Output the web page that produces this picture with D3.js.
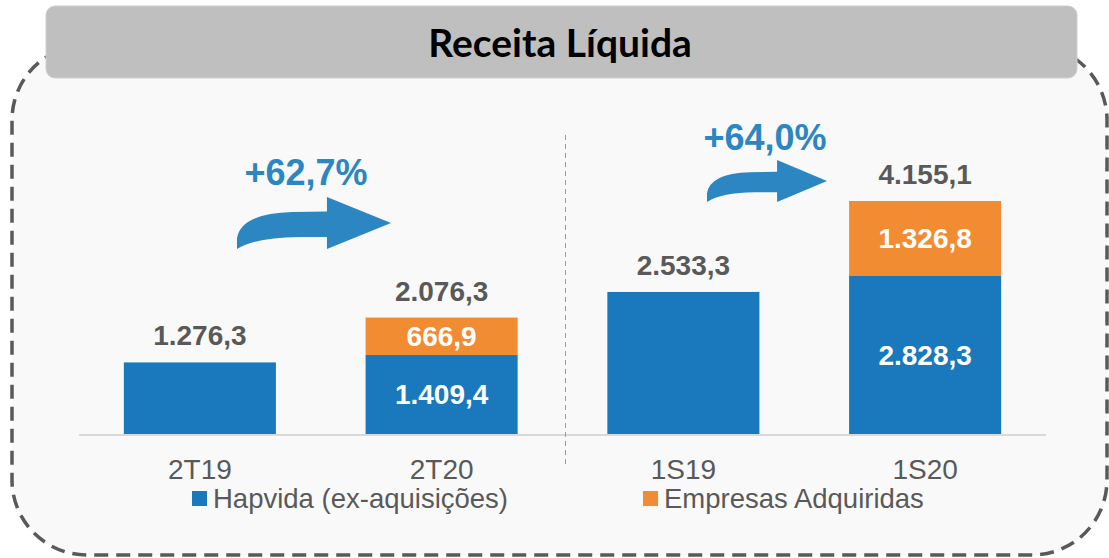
<!DOCTYPE html>
<html><head><meta charset="utf-8">
<script src="https://cdn.jsdelivr.net/npm/d3@7"></script>
<style>
html,body{margin:0;padding:0;background:#ffffff;}
svg{display:block;}
</style>
</head><body>
<svg id="chart" width="1109" height="558"></svg>
<script>
// ---- data ----
const categories = ["2T19", "2T20", "1S19", "1S20"];
const hapvida = [1276.3, 1409.4, 2533.3, 2828.3];
const adquiridas = [0, 666.9, 0, 1326.8];
const totals = [1276.3, 2076.3, 2533.3, 4155.1];
const seriesNames = ["Hapvida (ex-aquisições)", "Empresas Adquiridas"];
const growthLabels = ["+62,7%", "+64,0%"];
const title = "Receita Líquida";

// ---- setup ----
const W = 1109, H = 558;
const svg = d3.select("#chart");
const blue = "#1a79bc", orange = "#f28c33", arrowBlue = "#2b86c1", grey = "#595959";
const br = d3.formatLocale({decimal: ",", thousands: ".", grouping: [3], currency: ["R$", ""]});
const fmt = br.format(",.1f");

// background frame
svg.append("rect").attr("x", 12).attr("y", 45).attr("width", 1095).attr("height", 510)
  .attr("rx", 75).attr("ry", 75)
  .attr("fill", "#f9f9f9").attr("stroke", grey).attr("stroke-width", 3.5)
  .attr("stroke-dasharray", "14 8");

// title bar
svg.append("rect").attr("x", 46).attr("y", 6).attr("width", 1031).attr("height", 72)
  .attr("rx", 9).attr("fill", "#bfbfbf").attr("stroke", "#cfcfcf").attr("stroke-width", 1);
svg.append("text").attr("x", 560).attr("y", 57).attr("text-anchor", "middle")
  .attr("font-family", "Lato, 'Open Sans', sans-serif").attr("font-weight", 700)
  .attr("font-size", 39).attr("fill", "#000").text(title);

// scales
const x = d3.scaleBand().domain(categories).range([79, 1046]).paddingInner(0.371).paddingOuter(0.1855);
const y = d3.scaleLinear().domain([0, d3.max(totals)]).range([434, 201]);

// stacked data
const rows = categories.map((c, i) => ({cat: c, hap: hapvida[i], adq: adquiridas[i], total: totals[i]}));
const stack = d3.stack().keys(["hap", "adq"])(rows);
const colors = {hap: blue, adq: orange};

const g = svg.append("g");
stack.forEach(layer => {
  g.selectAll(null).data(layer.filter(d => d[1] > d[0])).enter().append("rect")
    .attr("x", d => x(d.data.cat)).attr("width", x.bandwidth())
    .attr("y", d => y(d[1])).attr("height", d => y(d[0]) - y(d[1]))
    .attr("fill", colors[layer.key]);
});

// baseline
svg.append("line").attr("x1", x.range()[0]).attr("x2", x.range()[1])
  .attr("y1", y(0) + 1).attr("y2", y(0) + 1).attr("stroke", "#d9d9d9").attr("stroke-width", 2);

// separator
const sepX = (x("2T20") + x.bandwidth() + x("1S19")) / 2 + 3;
svg.append("line").attr("x1", sepX).attr("x2", sepX).attr("y1", 135).attr("y2", 468)
  .attr("stroke", "#9a9a9a").attr("stroke-width", 1).attr("stroke-dasharray", "5 4");

const labelFont = "'Liberation Sans', Arial, sans-serif";
// total labels
svg.selectAll(null).data(rows).enter().append("text")
  .attr("x", d => x(d.cat) + x.bandwidth() / 2).attr("y", d => y(d.total) - 17)
  .attr("text-anchor", "middle").attr("font-family", labelFont).attr("font-weight", 700)
  .attr("font-size", 28).attr("fill", grey).text(d => fmt(d.total));

// inside labels (only stacked bars)
stack.forEach(layer => {
  svg.selectAll(null).data(layer.filter(d => d.data.adq > 0)).enter().append("text")
    .attr("x", d => x(d.data.cat) + x.bandwidth() / 2)
    .attr("y", d => (y(d[0]) + y(d[1])) / 2 + 10)
    .attr("text-anchor", "middle").attr("font-family", labelFont).attr("font-weight", 700)
    .attr("font-size", 28).attr("fill", "#ffffff").text(d => fmt(d[1] - d[0]));
});

// category labels
svg.selectAll(null).data(categories).enter().append("text")
  .attr("x", d => x(d) + x.bandwidth() / 2).attr("y", 479)
  .attr("text-anchor", "middle").attr("font-family", labelFont)
  .attr("font-size", 28).attr("fill", grey).text(d => d);

// legend
const legendItems = [{name: seriesNames[0], color: blue, x: 192}, {name: seriesNames[1], color: orange, x: 643}];
legendItems.forEach(it => {
  svg.append("rect").attr("x", it.x).attr("y", 491).attr("width", 15).attr("height", 15).attr("fill", it.color);
  svg.append("text").attr("x", it.x + 21).attr("y", 508).attr("font-family", labelFont)
    .attr("font-size", 27.5).attr("fill", grey).text(it.name);
});

// growth arrows
function arrowPath(x0, top, w, h) {
  const P = (u, v) => [x0 + u * w, top + v * h];
  const p = d3.path();
  let a;
  a = P(0, 1); p.moveTo(...a);
  a = P(0, 0.80); p.lineTo(...a);
  let c = P(0.02, 0.32), e = P(0.36, 0.29); p.quadraticCurveTo(c[0], c[1], e[0], e[1]);
  a = P(0.584, 0.28); p.lineTo(...a);
  a = P(0.584, 0); p.lineTo(...a);
  a = P(1, 0.5); p.lineTo(...a);
  a = P(0.584, 1); p.lineTo(...a);
  a = P(0.584, 0.77); p.lineTo(...a);
  a = P(0.40, 0.77); p.lineTo(...a);
  c = P(0.12, 0.78); e = P(0, 1); p.quadraticCurveTo(c[0], c[1], e[0], e[1]);
  p.closePath();
  return p.toString();
}
const arrows = [
  {x0: 237, top: 197, w: 154, h: 52, tx: 306, ty: 185, label: growthLabels[0]},
  {x0: 707, top: 160, w: 120, h: 42, tx: 765, ty: 150, label: growthLabels[1]}
];
arrows.forEach(a => {
  svg.append("path").attr("d", arrowPath(a.x0, a.top, a.w, a.h)).attr("fill", arrowBlue);
  svg.append("text").attr("x", a.tx).attr("y", a.ty).attr("text-anchor", "middle")
    .attr("font-family", labelFont).attr("font-weight", 700).attr("font-size", 36)
    .attr("fill", arrowBlue).text(a.label);
});
</script>
</body></html>
